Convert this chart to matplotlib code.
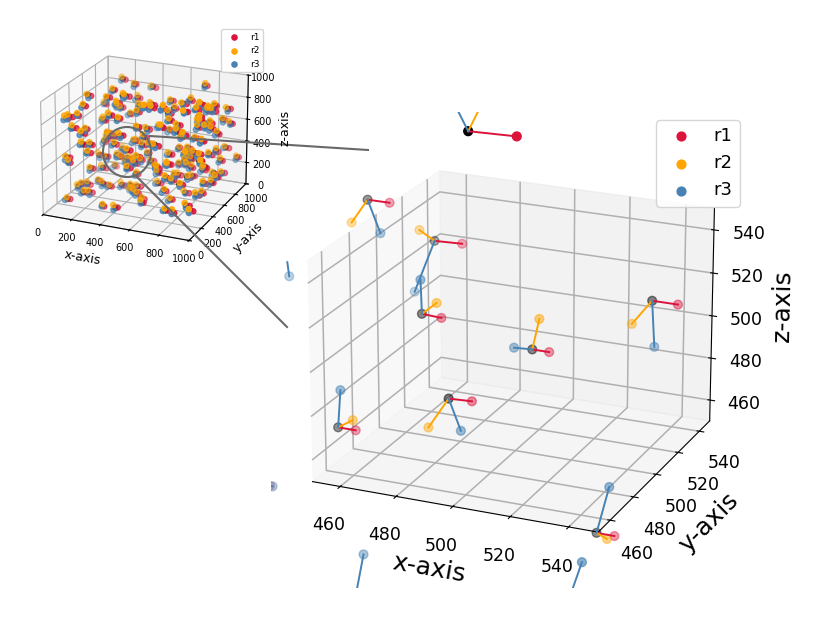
import matplotlib
matplotlib.use("Agg")
import numpy as np
import matplotlib.pyplot as plt
from matplotlib.lines import Line2D
from matplotlib.patches import Ellipse, Rectangle

W, H = 830, 623

# zoomed clusters: centre, r1, r2, r3
center = [(497, 470, 606.5), (447, 500, 556), (466.5, 510, 536.5), (471, 490, 512.5), (506, 500, 498.5),
          (540, 520, 518.5), (449.6, 470, 465), (485, 480, 481), (533.3, 490, 424), (421, 490, 537),
          (424, 460, 438), (458, 460, 381), (529.4, 470, 393)]
r1 = [(513.5, 470, 607), (455, 500, 556), (476.5, 510, 537), (478, 490, 512), (512, 500, 498.5),
      (549, 520, 518.5), (456, 470, 465), (493.3, 480, 481.5), (539.6, 490, 424), (427, 490, 538),
      (429, 460, 438), (467, 460, 380), (538.4, 470, 393)]
r2 = [(504, 470, 625), (441, 500, 544.5), (461, 510, 540.5), (476.3, 490, 518.5), (508.5, 500, 513),
      (533, 520, 506.5), (455, 470, 469.5), (477.6, 480, 466), (537, 490, 422), (416, 490, 543),
      (421, 460, 439), (455, 460, 370), (525.4, 470, 382)]
r3 = [(490, 470, 623), (451.5, 500, 541.5), (459, 510, 511.5), (470.6, 490, 528), (499.5, 500, 498),
      (541, 520, 497.5), (450.7, 470, 482.5), (489.3, 480, 467), (537.6, 490, 446.5), (422.5, 490, 520.5),
      (430, 460, 438), (463, 460, 413.5), (536.4, 470, 422)]

# the whole cloud
inset_x = [243, 326, 412, 777, 266, 135, 718, 355, 349, 269, 114, 288, 150, 360, 564, 534,
           583, 698, 747, 606, 907, 885, 938, 836, 841, 843, 646, 293, 329, 434, 97, 153,
           75, 91, 199, 385, 657, 774, 904, 960, 889, 120, 161, 187, 232, 125, 519, 501,
           494, 687, 713, 572, 832, 904, 908, 788, 407, 337, 479, 642, 639, 918, 927, 897,
           987, 187, 195, 220, 210, 237, 452, 288, 75, 86, 259, 389, 519, 416, 781, 729,
           944, 889, 930, 657, 639, 195, 188, 181, 452, 557, 731, 769, 807, 885, 941, 423,
           236, 281, 105, 124, 139, 183, 154, 322, 426, 400, 471, 579, 720, 691, 810, 740,
           892, 911, 661, 769, 885, 881, 75, 504, 553, 706, 855, 321, 411, 757, 802, 925,
           311, 318, 460, 456, 486, 605, 579, 363, 560, 467, 151, 281, 221, 229, 314, 165,
           744, 806, 825, 721, 896, 904, 676, 717, 781, 341, 448, 434, 811, 896, 870, 900,
           750, 736, 430, 337, 333, 274, 571, 915, 911, 79, 646, 766, 982]
inset_y = [700, 700, 800, 800, 500, 400, 700, 500, 700, 400, 700, 500, 300, 700, 300, 500,
           700, 300, 500, 700, 400, 700, 800, 500, 700, 300, 500, 700, 300, 500, 200, 200,
           200, 700, 500, 300, 500, 700, 800, 800, 600, 200, 300, 200, 500, 700, 300, 500,
           700, 300, 500, 700, 300, 500, 700, 600, 300, 700, 500, 300, 700, 400, 800, 700,
           850, 200, 300, 200, 500, 700, 300, 500, 200, 200, 700, 500, 300, 700, 500, 700,
           300, 600, 700, 500, 700, 300, 500, 700, 300, 500, 300, 500, 700, 700, 700, 500,
           400, 400, 300, 400, 300, 300, 500, 500, 400, 500, 400, 500, 300, 500, 300, 700,
           500, 600, 400, 500, 400, 500, 200, 400, 300, 400, 300, 200, 200, 200, 200, 200,
           500, 600, 400, 500, 600, 400, 500, 600, 400, 500, 600, 400, 500, 600, 400, 500,
           600, 400, 500, 600, 400, 500, 600, 400, 500, 600, 400, 500, 600, 400, 500, 600,
           400, 500, 600, 400, 500, 600, 400, 500, 600, 400, 500, 600, 500]
inset_z = [954, 920, 872, 949, 941, 914, 854, 902, 803, 917, 706, 809, 871, 738, 940, 863,
           819, 952, 909, 757, 981, 832, 769, 878, 779, 943, 814, 646, 814, 782, 804, 830,
           784, 558, 665, 797, 744, 677, 668, 642, 728, 707, 662, 678, 535, 391, 748, 638,
           567, 784, 713, 555, 743, 739, 590, 567, 651, 408, 560, 615, 402, 658, 418, 429,
           315, 576, 532, 512, 328, 314, 530, 359, 436, 396, 203, 337, 487, 309, 466, 319,
           536, 444, 349, 440, 257, 315, 222, 142, 371, 316, 461, 377, 235, 223, 235, 215,
           133, 123, 131, 109, 85, 95, 98, 91, 159, 65, 97, 162, 342, 258, 304, 163,
           230, 188, 167, 116, 172, 140, 59, 60, 80, 90, 124, 55, 54, 106, 101, 143,
           349, 291, 370, 352, 298, 358, 263, 460, 565, 485, 414, 578, 548, 475, 512, 333,
           470, 532, 490, 349, 537, 377, 209, 267, 263, 6, 106, 101, 673, 870, 776, 678,
           709, 616, 779, 880, 905, 745, 887, 902, 840, 99, 350, 301, 307]
# how far each series sits from the cloud point
r1_dx = [20, 14, 24, 18, 12, 22, 16, 26, 18, 20, 13, 25, 17, 21, 15, 23, 19, 12, 27, 16, 22, 14, 20, 25, 13, 18, 24, 15, 21, 17, 26, 12,
         19, 23, 14, 20, 16, 25, 18, 13, 22, 27, 15, 19, 24, 12, 17, 21, 26, 14, 20, 16, 23, 18, 13, 25, 19, 15, 22, 27, 12, 17, 24, 20,
         14, 21, 16, 26, 18, 13, 23, 19, 25, 15, 20, 12, 22, 17, 27, 14, 18, 24, 16, 21, 13, 19, 26, 15, 23, 20, 12, 17, 25, 14, 22, 18,
         27, 16, 13, 21, 19, 24, 15, 20, 26, 12, 17, 23, 14, 18, 25, 16, 21, 13, 19, 27, 22, 15, 20, 24, 12, 17, 26, 14, 18, 23, 16, 21,
         13, 25, 19, 15, 22, 27, 12, 20, 17, 24, 14, 18, 26, 16, 21, 13, 23, 19, 25, 15, 20, 12, 22, 17, 27, 14, 18, 24, 16, 21, 13, 19,
         26, 15, 23, 20, 12, 17, 25, 14, 22, 18, 27, 16, 13, 21, 19, 24, 15, 20, 26]
r1_dz = [-4, 2, -6, 0, 3, -3, -8, 1, -2, 4, -5, 0, -7, 2, -1, -4, 1, -6, 3, -2, -8, 0, 4, -3, -5, 2, -7, -1, 3, -4, 0, -6,
         2, -2, -8, 4, 1, -5, -3, 0, -7, 3, -1, -4, 2, -6, 0, -2, 4, -8, 1, -3, -5, 2, -7, 0, 3, -1, -4, -6, 2, 1, -2, -8,
         4, 0, -5, -3, 3, -7, 1, -1, 2, -4, -6, 0, -2, 4, -8, 3, 1, -5, -3, 2, -7, 0, -1, -4, 3, -6, 2, -2, 1, -8, 4, 0,
         -5, -3, 2, -7, 3, -1, -4, 0, -6, 1, -2, 4, -8, 2, -5, 3, -3, 0, -7, 1, -1, -4, 2, -6, 0, 3, -2, -8, 4, 1, -5, -3,
         2, -7, 0, -1, 3, -4, -6, 1, -2, 4, -8, 2, 0, -5, -3, 3, -7, 1, -1, -4, 2, -6, 0, 4, -2, -8, 1, 3, -5, -3, 2, -7, 0,
         -1, -4, 3, -6, 1, -2, 4, -8, 2, 0, -5, -3, 3, -7, 1, -1, -4]
r2_dx = [-8, -4, -12, 2, -6, -10, 4, -14, -2, -7, -11, 0, -5, -9, 3, -13, -6, -1, -10, 4, -8, -3, -14, 1, -7, -12, -4, 2, -9, -5, -11, 0,
         -13, -2, -8, 3, -6, -10, -1, -14, 4, -7, -3, -12, 1, -9, -5, -11, 0, -8, -13, 2, -4, -10, -6, 3, -14, -1, -7, -12, 4, -3, -9, 1,
         -5, -11, -8, 0, -13, -2, -6, 2, -10, -4, -14, 3, -7, -1, -12, -9, 4, -5, -3, -11, 1, -8, -13, 0, -6, -2, -10, 2, -4, -14, -7, 3,
         -12, -1, -9, -5, 4, -11, -3, -8, 1, -13, 0, -6, -10, -2, 2, -14, -4, -7, 3, -12, -9, -1, -5, 4, -11, -3, -8, 1, -13, -6, 0, -10,
         -2, 2, -14, -4, -7, 3, -12, -1, -9, -5, 4, -11, -3, -8, 1, -13, -6, 0, -10, -2, 2, -14, -4, -7, 3, -12, -1, -9, -5, 4, -11, -3, -8,
         1, -13, -6, 0, -10, -2, 2, -14, -4, -7, 3, -12, -1, -9, -5, 4, -11]
r2_dz = [18, 12, 10, 22, 14, 8, 20, 16, 24, 10, 15, 19, 9, 21, 13, 17, 11, 23, 8, 18, 14, 20, 12, 16, 25, 9, 19, 13, 22, 10, 17, 15,
         21, 8, 24, 12, 18, 14, 11, 20, 16, 23, 9, 13, 19, 25, 10, 15, 21, 17, 12, 8, 22, 14, 18, 11, 20, 16, 24, 9, 13, 19, 10, 23,
         15, 21, 17, 12, 8, 25, 14, 18, 11, 20, 16, 22, 9, 13, 19, 24, 10, 15, 21, 17, 12, 8, 23, 14, 18, 11, 20, 16, 25, 9, 13, 19,
         22, 10, 15, 21, 17, 12, 8, 24, 14, 18, 11, 20, 16, 23, 9, 13, 19, 25, 10, 15, 21, 17, 12, 8, 22, 14, 18, 11, 20, 16, 24, 9,
         13, 19, 23, 10, 15, 21, 17, 12, 8, 25, 14, 18, 11, 20, 16, 22, 9, 13, 19, 24, 10, 15, 21, 17, 12, 8, 23, 14, 18, 11, 20, 16, 25,
         9, 13, 19, 22, 10, 15, 21, 17, 12, 8, 24, 14, 18, 11, 20, 16, 23, 9]
r3_dx = [-12, -6, -16, -2, -10, 2, -14, -8, -18, -4, -11, 0, -15, -7, -3, -13, -9, -17, 1, -5, -12, -19, -2, -8, -14, -6, 2, -16, -10, -4, -13, 0,
         -18, -7, -11, -3, -15, -9, 1, -5, -17, -12, -2, -19, -8, -14, -6, 2, -10, -16, -4, -13, 0, -7, -18, -11, -3, -9, -15, 1, -5, -12, -17, -2,
         -8, -19, -14, -6, 2, -10, -16, -4, -13, 0, -7, -11, -18, -3, -9, -15, 1, -5, -12, -17, -2, -8, -19, -14, -6, 2, -10, -4, -16, -13, 0, -7,
         -11, -18, -3, -9, -15, 1, -5, -12, -17, -2, -8, -19, -14, -6, 2, -10, -4, -16, -13, 0, -7, -11, -18, -3, -9, -15, 1, -5, -12, -17, -2, -8,
         -19, -14, -6, 2, -10, -4, -16, -13, 0, -7, -11, -18, -3, -9, -15, 1, -5, -12, -17, -2, -8, -19, -14, -6, 2, -10, -4, -16, -13, 0, -7, -11, -18,
         -3, -9, -15, 1, -5, -12, -17, -2, -8, -19, -14, -6, 2, -10, -4, -16, -13, 0]
r3_dz = [-18, -24, -10, -20, -14, -26, -16, -12, -22, -28, -8, -19, -25, -15, -21, -11, -17, -27, -13, -23, -9, -18, -24, -10, -20, -14, -26, -16, -12, -22, -28, -8,
         -19, -25, -15, -21, -11, -17, -27, -13, -23, -9, -18, -24, -10, -20, -14, -26, -16, -12, -22, -28, -8, -19, -25, -15, -21, -11, -17, -27, -13, -23, -9, -18,
         -24, -10, -20, -14, -26, -16, -12, -22, -28, -8, -19, -25, -15, -21, -11, -17, -27, -13, -23, -9, -18, -24, -10, -20, -14, -26, -16, -12, -22, -28, -8, -19,
         -25, -15, -21, -11, -17, -27, -13, -23, -9, -18, -24, -10, -20, -14, -26, -16, -12, -22, -28, -8, -19, -25, -15, -21, -11, -17, -27, -13, -23, -9, -18, -24,
         -10, -20, -14, -26, -16, -12, -22, -28, -8, -19, -25, -15, -21, -11, -17, -27, -13, -23, -9, -18, -24, -10, -20, -14, -26, -16, -12, -22, -28, -8, -19, -25, -15,
         -21, -11, -17, -27, -13, -23, -9, -18, -24, -10, -20, -14, -26, -16, -12, -22, -28]

n = len(inset_x)
cx, cy, cz = np.array(inset_x), np.array(inset_y), np.array(inset_z)
inset_center = np.c_[cx, cy, cz]
inset_r1 = np.c_[cx + r1_dx[:n], cy, cz + r1_dz[:n]]
inset_r2 = np.c_[cx + r2_dx[:n], cy, cz + r2_dz[:n]]
inset_r3 = np.c_[cx + r3_dx[:n], cy, cz + r3_dz[:n]]

fig = plt.figure(figsize=(W / 100, H / 100), dpi=100)


def draw(ax, r1, r2, r3, center, s, lw, order=(2, 4, 3)):
    c = np.array(center)
    ax.scatter(c[:, 0], c[:, 1], c[:, 2], c="k", s=s, zorder=1)
    for pts, col, name, zo in zip([r1, r2, r3], ["crimson", "orange", "steelblue"], ["r1", "r2", "r3"], order):
        p = np.array(pts)
        ax.scatter(p[:, 0], p[:, 1], p[:, 2], c=col, s=s, label=name, zorder=zo)
        if lw:
            for a, b in zip(c, p):
                ax.plot([a[0], b[0]], [a[1], b[1]], [a[2], b[2]], color=col, lw=lw, zorder=5)


def setup(ax, lo, hi):
    ax.view_init(elev=21, azim=-66.5)
    ax.set_proj_type("persp", focal_length=1.3)
    ax.set_box_aspect((4, 4, 3.04))
    ax.set_xlim(lo, hi)
    ax.set_ylim(lo, hi)
    ax.set_zlim(lo, hi)


# big panel
plt.rcParams["grid.linewidth"] = 1.1
ax = fig.add_axes([270 / W, 1 - 588 / H, 478 / W, 476 / H], projection="3d", computed_zorder=False)
draw(ax, r1, r2, r3, center, 40, 1.4)
setup(ax, 450, 550)
ax.tick_params(labelsize=12.5, pad=8)
ax.set_xlabel("x-axis", fontsize=18, labelpad=12)
ax.set_ylabel("y-axis", fontsize=18, labelpad=12)
ax.set_zlabel("z-axis", fontsize=18, labelpad=12)
ax.legend(fontsize=13, loc="upper right", bbox_to_anchor=(740 / W, 1 - 120 / H),
          bbox_transform=fig.transFigure, borderaxespad=0)

# white area behind the small panel
fig.add_artist(Rectangle((0, 1 - 260 / H), 304.5 / W, 260 / H, transform=fig.transFigure, color="w", zorder=1))

# small panel
plt.rcParams["grid.linewidth"] = 0.8
axi = fig.add_axes([22 / W, 1 - 269 / H, 243 / W, 243 / H], projection="3d", zorder=2, computed_zorder=False)
draw(axi, inset_r1, inset_r2, inset_r3, inset_center, 14, 0)
setup(axi, 0, 1000)
axi.tick_params(labelsize=7, pad=-1)
axi.legend(fontsize=6.5, loc="upper right", bbox_to_anchor=(263 / W, 1 - 29 / H),
           bbox_transform=fig.transFigure, borderaxespad=0)
fig.text(82 / W, 1 - 258 / H, "x-axis", fontsize=9, rotation=-10, ha="center", va="center", zorder=6)
fig.text(248 / W, 1 - 237 / H, "y-axis", fontsize=9, rotation=45, ha="center", va="center", zorder=6)
fig.text(285 / W, 1 - 128 / H, "z-axis", fontsize=9, rotation=90, ha="center", va="center", zorder=6)

# zoom marker
fig.add_artist(Ellipse((127 / W, 1 - 152 / H), 48 / W, 50 / H, transform=fig.transFigure,
                       fill=False, ec="dimgray", lw=1.5, zorder=5))
fig.add_artist(Line2D([150 / W, 368 / W], [1 - 136 / H, 1 - 150 / H], transform=fig.transFigure,
                      color="dimgray", lw=1.5, zorder=5))
fig.add_artist(Line2D([137 / W, 287 / W], [1 - 177 / H, 1 - 327 / H], transform=fig.transFigure,
                      color="dimgray", lw=1.5, zorder=5))

fig.savefig("out.png", dpi=100)
